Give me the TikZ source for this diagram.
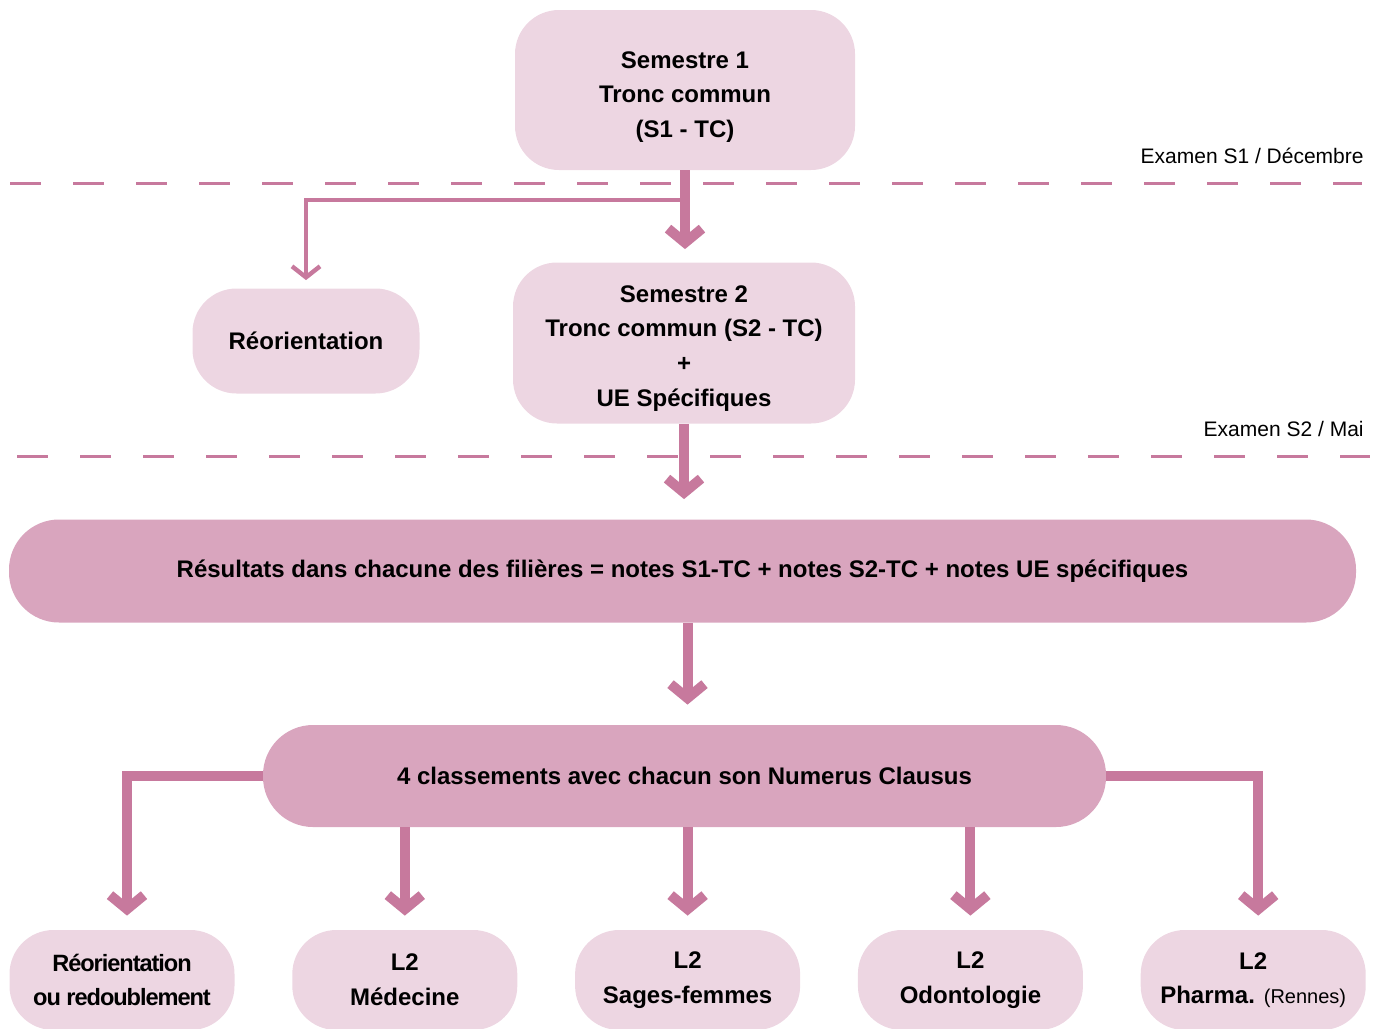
\documentclass[tikz,border=0pt]{standalone}
\usepackage{fontspec}
\setmainfont{Liberation Sans}
\newfontfamily\tightfont[LetterSpace=-4.5]{Liberation Sans}
\usetikzlibrary{arrows.meta, positioning}
\definecolor{boxLight}{HTML}{EDD6E2}
\definecolor{boxDark}{HTML}{D9A5BE}
\definecolor{arrowPink}{HTML}{C7799D}

\begin{document}
\begin{tikzpicture}[x=0.5pt, y=-0.5pt,
    box/.style={fill=boxLight, rounded corners=22pt, align=center, inner sep=0pt,
      font=\fontsize{12}{17.3}\selectfont\bfseries},
    darkbox/.style={box, fill=boxDark, rounded corners=25pt},
    leafbox/.style={box, minimum width=112.5pt, minimum height=50pt},
    bigarrow/.style={draw=arrowPink, line width=5pt, -{Straight Barb[length=7pt, width=17pt]}},
    smallarrow/.style={draw=arrowPink, line width=2.2pt, -{Straight Barb[length=5.5pt, width=14pt]}},
    examline/.style={draw=arrowPink, line width=1.5pt, dash pattern=on 15.5pt off 16pt},
    examlabel/.style={anchor=base east, inner sep=0pt, font=\fontsize{10.5}{12}\selectfont}]
  \useasboundingbox (0,0) rectangle (1379,1028);

  % exam separators
  \draw[examline] (10,183) -- (1362,183);
  \draw[examline] (17,456) -- (1370,456);
  \node[examlabel] (exam1) at (1364,163) {Examen S1 / Décembre};
  \node[examlabel] (exam2) at (1364,436) {Examen S2 / Mai};

  % semesters
  \node[box, minimum width=170pt, minimum height=80pt, text height=50pt] (s1) at (685,90)
    {Semestre 1\\Tronc commun\\(S1 - TC)};
  \node[box, minimum width=171pt, minimum height=80.5pt, text height=65.5pt] (s2) at (684,343)
    {Semestre 2\\Tronc commun (S2 - TC)\\+\\UE Spécifiques};
  \node[box, minimum width=113.5pt, minimum height=52.5pt] (reo) at (306,341) {Réorientation};

  % results and rankings
  \node[darkbox, minimum width=673.5pt, minimum height=51.5pt] (res) at (682.5,571)
    {Résultats dans chacune des filières = notes S1-TC + notes S2-TC + notes UE spécifiques};
  \node[darkbox, minimum width=421.5pt, minimum height=51pt] (class) at (684.5,776)
    {4 classements avec chacun son Numerus Clausus};

  % outcomes
  \node[leafbox, font=\fontsize{11.8}{17.3}\tightfont\bfseries] (redo) at (122,980)
    {Réorientation\\ou redoublement};
  \node[leafbox, right=28.5pt of redo] (med) {L2\\Médecine};
  \node[leafbox, right=28.5pt of med] (sf) {L2\\Sages-femmes};
  \node[leafbox, right=28.5pt of sf] (odonto) {L2\\Odontologie};
  \node[leafbox, right=28.5pt of odonto] (pharma)
    {L2\\Pharma. {\fontsize{10}{17.3}\selectfont\mdseries(Rennes)}};

  % connectors
  \coordinate (split) at (685,200);
  \draw[bigarrow, shorten >=6.5pt] (s1.south) -- (s1.south |- s2.north);
  \draw[smallarrow, shorten >=4pt] (split) -| (reo.north);
  \draw[bigarrow, shorten >=10pt] (s2.south) -- (s2.south |- res.north);
  \draw[bigarrow, shorten >=10pt] ([xshift=1.5pt]class.north |- res.south) -- ([xshift=1.5pt]class.north);
  \draw[bigarrow, shorten >=7pt] (class.west) -| ([xshift=2.5pt]redo.north);
  \draw[bigarrow, shorten >=7pt] (class.east) -| ([xshift=2.5pt]pharma.north);
  \draw[bigarrow, shorten >=7pt] (class.south -| med.north) -- (med.north);
  \draw[bigarrow, shorten >=7pt] (class.south -| sf.north) -- (sf.north);
  \draw[bigarrow, shorten >=7pt] (class.south -| odonto.north) -- (odonto.north);
\end{tikzpicture}
\end{document}
